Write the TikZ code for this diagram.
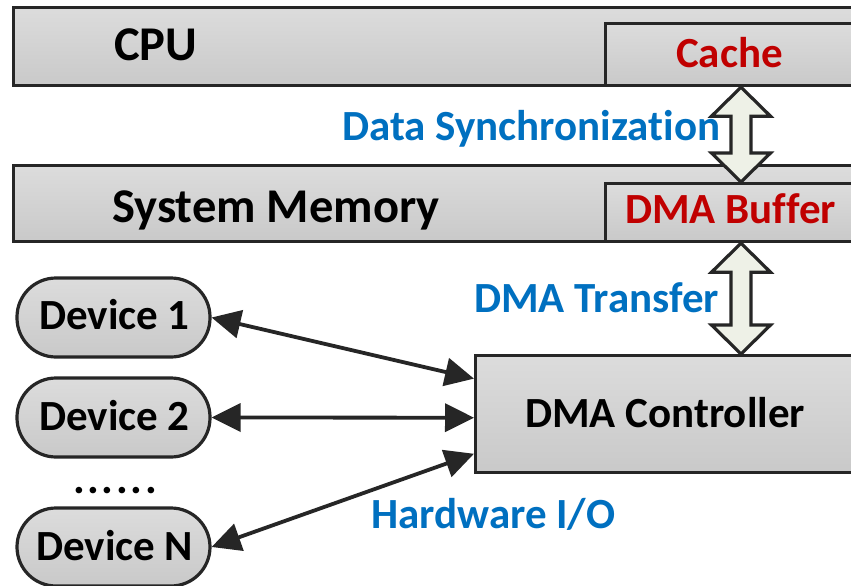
\documentclass[tikz,border=0pt]{standalone}
\usepackage{fontspec}
\setmainfont[Ligatures=NoCommon]{Carlito}
\newfontfamily\dotfont[LetterSpace=6]{Carlito}
\usetikzlibrary{arrows.meta,calc}

\definecolor{edge}{HTML}{262626}
\definecolor{boxtop}{HTML}{DCDCDC}
\definecolor{boxbot}{HTML}{C9C9C9}
\definecolor{arrfill}{HTML}{EEF1E7}
\definecolor{lblue}{HTML}{0070C0}
\definecolor{dred}{HTML}{C00000}

% double-headed block arrow between two points on a vertical line
\newcommand{\blockarrow}[2]{%
  \draw[blockarr]
    (#1) -- ($(#1)+(29.5,29)$) -- ($(#1)+(10,29)$)
    -- ($(#2)+(10,-29)$) -- ($(#2)+(29.5,-29)$) -- (#2)
    -- ($(#2)+(-29.5,-29)$) -- ($(#2)+(-10,-29)$)
    -- ($(#1)+(-10,29)$) -- ($(#1)+(-29.5,29)$) -- cycle;}

\begin{document}
\begin{tikzpicture}[x=1pt,y=-1pt,
  panel/.style={draw=edge, line width=3.2pt, top color=boxtop, bottom color=boxbot,
                anchor=north west, inner sep=0pt},
  device/.style={draw=edge, line width=3.2pt, top color=boxtop, bottom color=boxbot,
                 rounded corners=39pt, minimum width=193pt, inner sep=0pt},
  bigtxt/.style={anchor=base west, inner sep=0pt, font=\fontsize{48.5}{52}\selectfont\bfseries},
  txt/.style={anchor=base west, inner sep=0pt, font=\fontsize{43}{46}\selectfont\bfseries},
  redtxt/.style={txt, text=dred},
  bluetxt/.style={txt, text=lblue},
  blockarr/.style={draw=edge, line width=3.2pt, fill=arrfill, line join=miter},
  link/.style={draw=edge, line width=3.8pt,
               {Triangle[length=29pt,width=28pt]}-{Triangle[length=29pt,width=28pt]}}]
\useasboundingbox (0,0) rectangle (851,586);
\fill[white] (0,0) rectangle (851,586);
\clip (0,0) rectangle (851,586);

% processor and memory rows
\node[panel, minimum width=860pt, minimum height=78pt] (cpu) at (12,6) {};
\node[panel, minimum width=262pt, minimum height=62pt] (cache) at (604,22) {};
\node[panel, minimum width=860pt, minimum height=76pt] (mem) at (12,164) {};
\node[panel, minimum width=262pt, minimum height=58pt] (buf) at (604,182) {};
\node[panel, minimum width=402pt, minimum height=117pt] (ctrl) at (474,354) {};

\node[bigtxt] (cpulbl) at (114,60) {CPU};
\node[redtxt] (cachelbl) at (676,67) {Cache};
\node[bigtxt] (memlbl) at (112,222) {System Memory};
\node[redtxt] (buflbl) at (625,223) {DMA Buffer};
\node[txt] (ctrllbl) at (525,427) {DMA Controller};

% devices
\node[device, minimum height=79pt] (dev1) at (113.5,317.5) {};
\node[device, minimum height=79pt] (dev2) at (113.5,417.5) {};
\node[device, minimum height=78pt] (devn) at (113.5,547) {};
\node[txt] (dev1lbl) at (39,329) {Device 1};
\node[txt] (dev2lbl) at (39,430) {Device 2};
\node[txt] (devnlbl) at (36,560) {Device N};
\node[anchor=base west, inner sep=0pt, font=\dotfont\fontsize{44}{46}\selectfont\bfseries] (dots) at (73,493) {......};

% data paths
\coordinate (cacheS) at (cache.south -| 741,0);
\coordinate (bufN) at (buf.north -| 741,0);
\coordinate (bufS) at (buf.south -| 741,0);
\coordinate (ctrlN) at (ctrl.north -| 741,0);
\blockarrow{cacheS}{bufN}
\blockarrow{bufS}{ctrlN}

\coordinate (in1) at ($(ctrl.north west)!0.205!(ctrl.south west)$);
\coordinate (in2) at ($(ctrl.north west)!0.53!(ctrl.south west)$);
\coordinate (inn) at ($(ctrl.north west)!0.83!(ctrl.south west)$);
\draw[link] (dev1.east) -- (in1);
\draw[link] (dev2.east) -- (in2);
\draw[link] (devn.east) -- (inn);

\node[bluetxt] (synclbl) at (342,140) {Data Synchronization};
\node[bluetxt] (xferlbl) at (474,312) {DMA Transfer};
\node[bluetxt] (hwlbl) at (371,528) {Hardware I/O};
\end{tikzpicture}
\end{document}
